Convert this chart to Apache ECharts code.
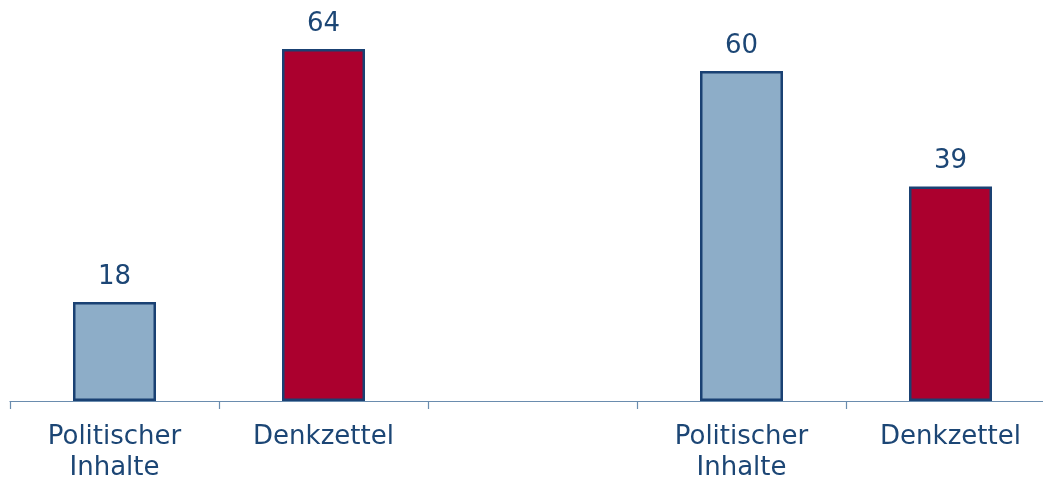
<!DOCTYPE html>
<html>
<head>
<meta charset="utf-8">
<script src="https://cdn.jsdelivr.net/npm/echarts@6/dist/echarts.min.js"></script>
<style>html,body{margin:0;padding:0;background:#fff;}#c{width:1043px;height:482px;}</style>
</head>
<body>
<div id="c"></div>
<script>
const categories = ["Politischer\nInhalte", "Denkzettel", "", "Politischer\nInhalte", "Denkzettel"];
const values = [18, 64, null, 60, 39];
const barColors = ["#8dadc8", "#ab002e", "#ffffff", "#8dadc8", "#ab002e"];

const chart = echarts.init(document.getElementById('c'));
const textColor = '#1c4675';
chart.setOption({
  animation: false,
  grid: { left: 10, right: -12, top: 16, bottom: 81, outerBoundsMode: 'none', containLabel: false },
  xAxis: {
    type: 'category',
    data: categories,
    axisLine: { lineStyle: { color: '#6a8cae', width: 1.2 } },
    axisTick: { show: true, length: 8, lineStyle: { color: '#6a8cae', width: 1.2 } },
    axisLabel: { color: textColor, fontFamily: 'DejaVu Sans', fontSize: 26, lineHeight: 31, margin: 21, interval: 0 }
  },
  yAxis: { type: 'value', min: 0, max: 70, show: false, splitLine: { show: false } },
  series: [{
    type: 'bar',
    barWidth: 83,
    data: values.map((v, i) => ({ value: v, itemStyle: { color: barColors[i] } })),
    itemStyle: { borderColor: '#1a4173', borderWidth: 2.5 },
    label: { show: true, position: 'top', distance: 12, color: textColor, fontFamily: 'DejaVu Sans', fontSize: 26 }
  }]
});
</script>
</body>
</html>
